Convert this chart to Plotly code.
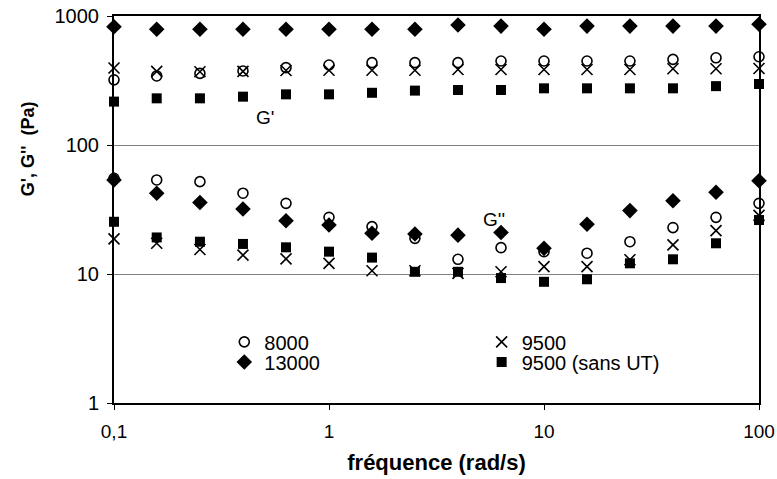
import plotly.graph_objects as go

freq = [0.1, 0.158, 0.251, 0.398, 0.631, 1, 1.585, 2.51, 3.98, 6.31, 10, 15.85, 25.1, 39.8, 63.1, 100]

# G' (storage modulus)
gp_8000 = [320, 343, 359, 375, 398, 417, 435, 435, 435, 448, 448, 448, 448, 461, 474, 483]
gp_13000 = [826, 789, 789, 789, 789, 789, 789, 789, 851, 835, 789, 835, 835, 835, 835, 862]
gp_9500 = [395, 372, 370, 372, 378, 380, 380, 380, 385, 385, 385, 385, 385, 390, 390, 392]
gp_9500_sans = [217, 230, 230, 237, 247, 247, 254, 264, 267, 267, 275, 275, 275, 275, 286, 297]

# G'' (loss modulus)
gpp_8000 = [55.2, 53.6, 52, 42.3, 35.3, 27.5, 23.3, 18.9, 13, 16, 14.9, 14.5, 17.8, 22.9, 27.5, 35.3]
gpp_13000 = [53.6, 42.3, 35.8, 31.9, 25.9, 24, 20.7, 20.4, 20, 21, 15.8, 24.3, 31, 37, 43, 52.8]
gpp_9500 = [18.7, 17.3, 15.5, 14, 13.1, 12.1, 10.6, 10.6, 10.1, 10.4, 11.4, 11.4, 12.9, 16.8, 21.7, 28.5]
gpp_9500_sans = [25.4, 19.2, 17.8, 17.1, 16.1, 14.9, 13.4, 10.4, 10.4, 9.3, 8.7, 9.1, 12.1, 13, 17.3, 26.2]

names = ["8000", "13000", "9500", "9500 (sans UT)"]
gp_series = [gp_8000, gp_13000, gp_9500, gp_9500_sans]
gpp_series = [gpp_8000, gpp_13000, gpp_9500, gpp_9500_sans]
legend_ids = ["legend", "legend2", "legend3", "legend4"]

x_ticks = [0.1, 1, 10, 100]
x_ticktext = ["0,1", "1", "10", "100"]
y_ticks = [1, 10, 100, 1000]
y_ticktext = ["1", "10", "100", "1000"]

markers = [
    dict(symbol="circle-open", size=10, color="black", line=dict(width=1.6, color="black")),
    dict(symbol="diamond", size=12, color="black"),
    dict(symbol="x-thin-open", size=11, color="black", line=dict(width=1.6, color="black")),
    dict(symbol="square", size=10, color="black"),
]

fig = go.Figure()
for name, gp, m, lg in zip(names, gp_series, markers, legend_ids):
    fig.add_trace(go.Scatter(x=freq, y=gp, mode="markers", name=name, marker=m,
                             legend=lg, cliponaxis=False))
for name, gpp, m in zip(names, gpp_series, markers):
    fig.add_trace(go.Scatter(x=freq, y=gpp, mode="markers", name=name, marker=m,
                             showlegend=False, cliponaxis=False))

font = "Liberation Sans, Arial, sans-serif"
leg_common = dict(bgcolor="rgba(0,0,0,0)", borderwidth=0, font=dict(family=font, size=20, color="black"),
                  tracegroupgap=0, itemwidth=30, yanchor="middle", xanchor="left")

fig.update_layout(
    width=777, height=479,
    margin=dict(l=114, r=18, t=16, b=76, autoexpand=False),
    paper_bgcolor="white", plot_bgcolor="white",
    font=dict(family=font, size=19, color="black"),
    legend=dict(x=0.171, y=0.158, **leg_common),
    legend2=dict(x=0.171, y=0.106, **leg_common),
    legend3=dict(x=0.57, y=0.158, **leg_common),
    legend4=dict(x=0.57, y=0.106, **leg_common),
)
fig.add_annotation(x=-0.30, y=2.21, xref="x", yref="y", text="G'", showarrow=False,
                   font=dict(family=font, size=19, color="black"))
fig.add_annotation(x=0.767, y=1.42, xref="x", yref="y", text="G''", showarrow=False,
                   font=dict(family=font, size=19, color="black"))
# y-axis title (placed above the plot's vertical centre, as in the reference)
fig.add_annotation(x=-0.133, y=0.656, xref="paper", yref="paper", text="<b>G', G''  (Pa)</b>",
                   textangle=-90, showarrow=False, xanchor="center", yanchor="middle",
                   font=dict(family=font, size=18, color="black"))

fig.update_xaxes(type="log", range=[-1, 2], tickvals=x_ticks, ticktext=x_ticktext,
                 showline=True, mirror=True, linecolor="black", linewidth=2,
                 ticks="outside", ticklen=5, tickcolor="black", ticklabelstandoff=5,
                 showgrid=False, zeroline=False,
                 automargin=False, tickfont=dict(family=font, size=19),
                 title=dict(text="<b>fréquence (rad/s)</b>", font=dict(family=font, size=22), standoff=14))
fig.update_yaxes(type="log", range=[0, 3], tickvals=y_ticks, ticktext=y_ticktext,
                 showline=True, mirror=True, linecolor="black", linewidth=2,
                 ticks="outside", ticklen=5, tickcolor="black", ticklabelstandoff=4,
                 showgrid=True, gridcolor="#808080", gridwidth=1, zeroline=False,
                 automargin=False, tickfont=dict(family=font, size=20))

fig.write_html("out.html", config={"displayModeBar": False},
               post_script="document.body.style.margin='0px';")
